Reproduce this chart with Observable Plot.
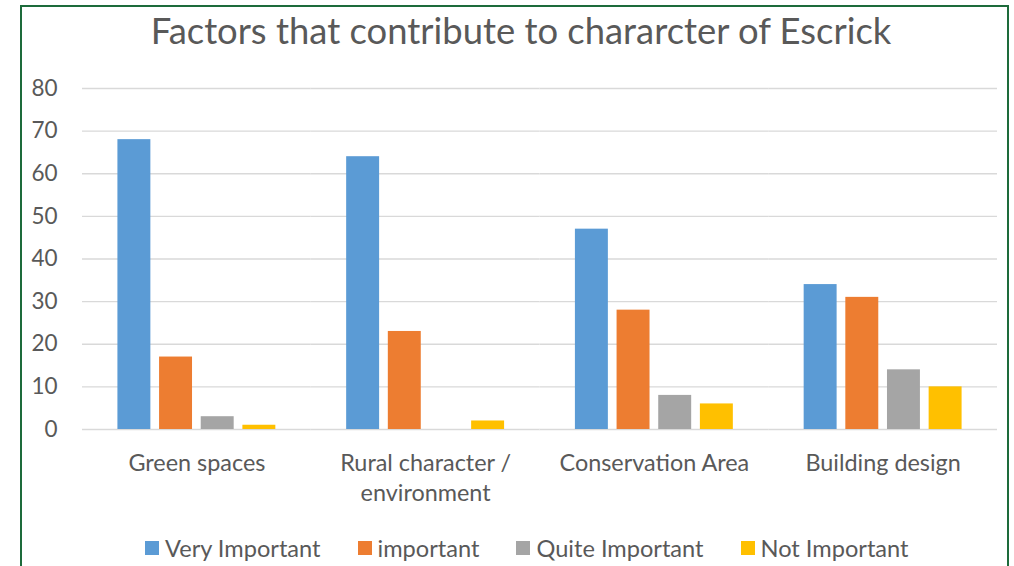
<!DOCTYPE html>
<html><head><meta charset="utf-8">
<script src="https://cdn.jsdelivr.net/npm/d3@7"></script>
<script src="https://cdn.jsdelivr.net/npm/@observablehq/plot@0.6"></script>
<style>
body{margin:0;background:#fff;width:1014px;height:566px;overflow:hidden;position:relative;font-family:Lato,"Open Sans",sans-serif;color:#595959}
#frame{position:absolute;left:20px;top:5px;width:989px;height:620px;border:2px solid #1d6b3b;box-sizing:border-box}
#title{position:absolute;left:0;width:1042px;top:8px;text-align:center;font-size:36.4px;white-space:nowrap;line-height:44px}
#chart{position:absolute;left:0;top:70px}
#legend{position:absolute;top:534px;left:145px;display:flex;gap:37px;font-size:23.6px;white-space:nowrap;line-height:28px}
.item{display:flex;align-items:center}
.sw{width:14px;height:14px;margin-right:6px;display:inline-block}
</style>
</head><body>
<div id="frame"></div>
<div id="title">Factors that contribute to chararcter of Escrick</div>
<div id="chart"></div>
<div id="legend"></div>
<script>
const categories = ["Green spaces", "Rural character / environment", "Conservation Area", "Building design"];
const categoryLabels = ["Green spaces", "Rural character /\nenvironment", "Conservation Area", "Building design"];
const series = ["Very Important", "important", "Quite Important", "Not Important"];
const colors = ["#5B9BD5", "#ED7D31", "#A5A5A5", "#FFC000"];
const veryImportant = [68, 64, 47, 34];
const important = [17, 23, 28, 31];
const quiteImportant = [3, 0, 8, 14];
const notImportant = [1, 2, 6, 10];
const yTicks = [0, 10, 20, 30, 40, 50, 60, 70, 80];

const valuesBySeries = [veryImportant, important, quiteImportant, notImportant];
const data = [];
categories.forEach((c, i) => series.forEach((s, j) => data.push({category: c, series: s, value: valuesBySeries[j][i]})));

const chart = Plot.plot({
  width: 1014, height: 439,
  marginLeft: 82, marginRight: 17, marginTop: 18, marginBottom: 80,
  style: {fontFamily: "Lato, 'Open Sans', sans-serif", color: "#595959", background: "transparent"},
  fx: {domain: categories, padding: 0, label: null, round: false},
  x: {domain: series, paddingInner: 0.209, paddingOuter: 0.85, axis: null, round: false},
  y: {domain: [0, 80], label: null},
  color: {domain: series, range: colors},
  marks: [
    Plot.gridY(yTicks, {stroke: "#d9d9d9", strokeOpacity: 1, strokeWidth: 1.4}),
    Plot.barY(data, {fx: "category", x: "series", y: "value", fill: "series"}),
    Plot.axisY(yTicks, {tickSize: 0, tickPadding: 25, fontSize: 22.5, label: null, fill: "#595959"}),
    Plot.axisFx({anchor: "bottom", tickSize: 0, tickPadding: 19.5, fontSize: 23.4, lineHeight: 1.3, label: null, fill: "#595959",
      tickFormat: d => categoryLabels[categories.indexOf(d)]})
  ]
});
document.getElementById("chart").appendChild(chart);

const legend = document.getElementById("legend");
series.forEach((s, i) => {
  const it = document.createElement("div");
  it.className = "item";
  it.innerHTML = `<span class="sw" style="background:${colors[i]}"></span><span>${s}</span>`;
  legend.appendChild(it);
});
</script>
</body></html>
